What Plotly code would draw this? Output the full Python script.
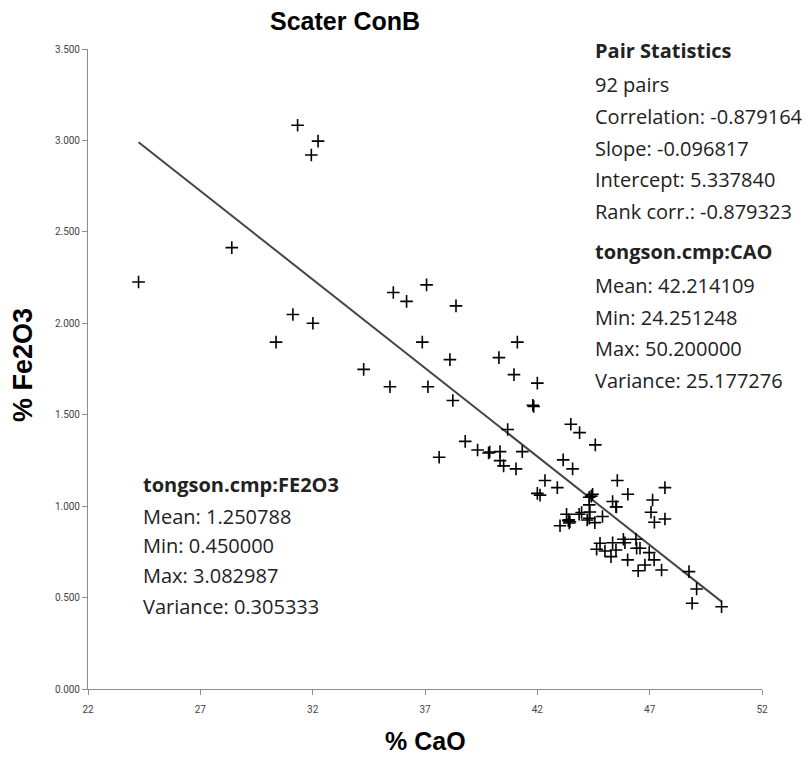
import plotly.graph_objects as go

cao = [24.25, 28.40, 30.37, 31.12, 31.33, 31.94, 32.01, 32.24, 34.27, 35.44,
       35.59, 36.18, 36.88, 37.07, 37.13, 37.63, 38.11, 38.24, 38.38, 38.79,
       39.34, 39.83, 39.88, 40.29, 40.34, 40.34, 40.50, 40.68, 40.96, 41.05,
       41.11, 41.33, 41.80, 41.84, 42.00, 42.00, 42.12, 42.34, 42.89, 43.01,
       43.15, 43.30, 43.38, 43.45, 43.42, 43.49, 43.57, 43.88, 43.86, 43.97,
       44.22, 44.31, 44.31, 44.46, 44.31, 44.34, 44.56, 44.58, 44.64, 44.79,
       44.90, 45.01, 45.28, 45.35, 45.50, 45.35, 45.50, 45.56, 45.83, 45.90,
       46.02, 46.03, 46.39, 46.42, 46.57, 46.49, 46.79, 46.98, 47.06, 47.13,
       47.20, 47.21, 47.53, 47.68, 47.68, 48.75, 48.89, 49.09, 50.20, 43.40,
       44.40, 45.52]
fe2o3 = [2.226, 2.414, 1.897, 2.048, 3.083, 2.920, 2.000, 2.996, 1.748, 1.653,
         2.168, 2.120, 1.897, 2.210, 1.653, 1.267, 1.801, 1.578, 2.095, 1.354,
         1.307, 1.291, 1.296, 1.812, 1.298, 1.249, 1.220, 1.419, 1.719, 1.204,
         1.897, 1.298, 1.552, 1.545, 1.673, 1.070, 1.060, 1.140, 1.101, 0.893,
         1.253, 0.956, 0.921, 0.915, 0.908, 1.448, 1.204, 1.402, 0.956, 0.965,
         0.924, 0.934, 1.049, 1.065, 1.007, 0.968, 0.910, 1.335, 0.764, 0.797,
         0.943, 0.755, 0.724, 0.800, 0.760, 1.025, 0.997, 1.140, 0.819, 0.800,
         0.706, 1.065, 0.819, 0.770, 0.770, 0.647, 0.678, 0.746, 0.967, 1.034,
         0.706, 0.912, 0.651, 1.101, 0.930, 0.642, 0.469, 0.547, 0.450, 0.925,
         1.055, 0.995]

slope = -0.096817
intercept = 5.337840
x_fit = [min(cao), max(cao)]
y_fit = [intercept + slope * v for v in x_fit]

x_ticks = [22, 27, 32, 37, 42, 47, 52]
y_ticks = [0.0, 0.5, 1.0, 1.5, 2.0, 2.5, 3.0, 3.5]

pair_lines = ["<b>Pair Statistics</b>", "92 pairs", "Correlation: -0.879164",
              "Slope: -0.096817", "Intercept: 5.337840", "Rank corr.: -0.879323"]
cao_lines = ["<b>tongson.cmp:CAO</b>", "Mean: 42.214109", "Min: 24.251248",
             "Max: 50.200000", "Variance: 25.177276"]
fe_lines = ["<b>tongson.cmp:FE2O3</b>", "Mean: 1.250788", "Min: 0.450000",
            "Max: 3.082987", "Variance: 0.305333"]

W, H = 811, 757
L, R, T, B = 88, 762, 49, 689

def px(x):
    return (x - L) / (R - L)

def py(y):
    return (B - y) / (B - T)

fig = go.Figure()
fig.add_trace(go.Scatter(x=x_fit, y=y_fit, mode="lines",
                         line=dict(color="#454545", width=2), hoverinfo="skip"))
fig.add_trace(go.Scatter(x=cao, y=fe2o3, mode="markers",
                         marker=dict(symbol="cross-thin", size=9,
                                     line=dict(color="black", width=1.6))))

ann = []
txtfont = dict(family="Open Sans, Noto Sans, sans-serif", size=20, color="#222")
ys_pair = [50, 84, 116, 148, 179, 211]
for t, yy in zip(pair_lines, ys_pair):
    ann.append(dict(x=px(593), y=py(yy), xref="paper", yref="paper", text=t,
                    showarrow=False, xanchor="left", yanchor="middle", font=txtfont))
ys_cao = [252, 285, 317, 348, 380]
for t, yy in zip(cao_lines, ys_cao):
    ann.append(dict(x=px(593), y=py(yy), xref="paper", yref="paper", text=t,
                    showarrow=False, xanchor="left", yanchor="middle", font=txtfont))
ys_fe = [484, 516, 545, 575, 606]
for t, yy in zip(fe_lines, ys_fe):
    ann.append(dict(x=px(141), y=py(yy), xref="paper", yref="paper", text=t,
                    showarrow=False, xanchor="left", yanchor="middle", font=txtfont))

ann.append(dict(x=px(345), y=py(21), xref="paper", yref="paper", text="<b>Scater ConB</b>",
                showarrow=False, xanchor="center", yanchor="middle",
                font=dict(family="Liberation Sans, Arial, sans-serif", size=25, color="black")))
ann.append(dict(x=px(425), y=py(741), xref="paper", yref="paper", text="<b>% CaO</b>",
                showarrow=False, xanchor="center", yanchor="middle",
                font=dict(family="Liberation Sans, Arial, sans-serif", size=25, color="black")))
ann.append(dict(x=px(23), y=py(365), xref="paper", yref="paper", text="<b>% Fe2O3</b>",
                showarrow=False, xanchor="center", yanchor="middle", textangle=-90,
                font=dict(family="Liberation Sans, Arial, sans-serif", size=27, color="black")))

fig.update_layout(
    width=W, height=H,
    margin=dict(l=L, r=W - R, t=T, b=H - B),
    plot_bgcolor="white", paper_bgcolor="white",
    showlegend=False,
    annotations=ann,
    xaxis=dict(range=[22, 52], tickvals=x_ticks, ticktext=[str(v) for v in x_ticks],
               showgrid=False, zeroline=False, showline=True, linecolor="#8c8c8c",
               linewidth=1, ticks="outside", ticklen=5, tickcolor="#8c8c8c",
               ticklabelstandoff=6,
               tickfont=dict(family="Liberation Sans Narrow, Roboto, sans-serif", size=10, color="#444")),
    yaxis=dict(range=[0, 3.5], tickvals=y_ticks, tickformat=".3f",
               showgrid=False, zeroline=False, showline=True, linecolor="#8c8c8c",
               linewidth=1, ticks="outside", ticklen=5, tickcolor="#8c8c8c",
               tickfont=dict(family="Liberation Sans Narrow, Roboto, sans-serif", size=10, color="#444")),
)

fig.write_html("out.html")
